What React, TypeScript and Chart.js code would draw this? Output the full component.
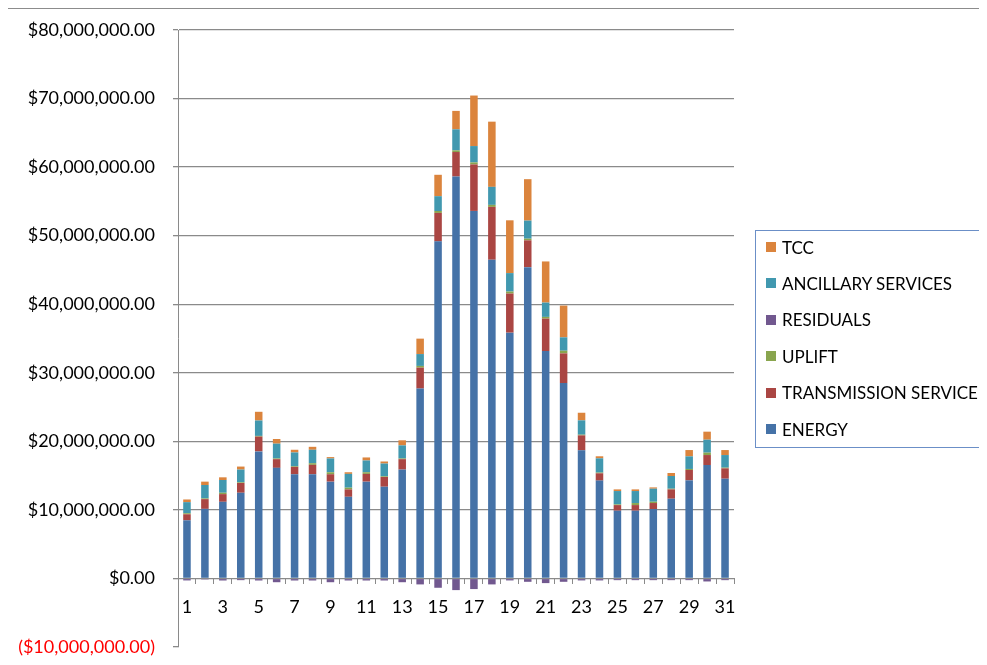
import React, { useEffect, useRef } from "react";
import { Chart, registerables } from "chart.js";

Chart.register(...registerables);

const DAYS = Array.from({ length: 31 }, (_, i) => String(i + 1));

// values in millions of dollars
const ENERGY = [8.48, 10.15, 11.18, 12.5, 18.53, 16.13, 15.2, 15.2, 14.12, 11.91, 14.12, 13.38, 15.88, 27.7, 49.17, 58.63, 53.61, 46.49, 35.85, 45.41, 33.17, 28.5, 18.69, 14.27, 9.88, 9.88, 10.12, 11.63, 14.31, 16.55, 14.55];
const TRANSMISSION = [0.88, 1.42, 1.12, 1.42, 2.16, 1.27, 1.07, 1.37, 1.08, 1.08, 1.13, 1.42, 1.52, 3.05, 4.15, 3.57, 6.78, 7.71, 5.71, 3.91, 4.73, 4.33, 2.18, 1.07, 0.82, 0.82, 0.88, 1.36, 1.51, 1.45, 1.51];
const UPLIFT = [0.15, 0.1, 0.2, 0.1, 0.1, 0.1, 0.1, 0.24, 0.29, 0.25, 0.24, 0.1, 0.1, 0.25, 0.28, 0.24, 0.29, 0.29, 0.29, 0.24, 0.25, 0.39, 0.1, 0.1, 0.1, 0.3, 0.19, 0.1, 0.15, 0.35, 0.1];
const RESIDUALS = [-0.29, -0.15, -0.3, -0.25, -0.3, -0.55, -0.3, -0.3, -0.55, -0.3, -0.3, -0.3, -0.55, -0.87, -1.36, -1.7, -1.55, -0.87, -0.29, -0.49, -0.68, -0.49, -0.29, -0.29, -0.25, -0.25, -0.25, -0.25, -0.25, -0.44, -0.25];
const ANCILLARY = [1.62, 1.96, 1.86, 1.86, 2.25, 2.16, 2.01, 1.96, 2.01, 2.01, 1.72, 1.86, 1.91, 1.73, 2.16, 3.07, 2.39, 2.63, 2.69, 2.64, 2.09, 1.95, 2.09, 2.08, 1.95, 1.75, 1.9, 1.85, 1.84, 1.89, 1.84];
const TCC = [0.39, 0.49, 0.39, 0.44, 1.27, 0.68, 0.39, 0.43, 0.2, 0.24, 0.44, 0.3, 0.74, 2.25, 3.12, 2.69, 7.37, 9.51, 7.7, 6.04, 6.0, 4.63, 1.11, 0.3, 0.24, 0.24, 0.19, 0.44, 0.92, 1.17, 0.73];

const Y_MIN = -10000000;
const Y_MAX = 80000000;
const Y_STEP = 10000000;
const MILLION = 1000000;

const SERIES = [
  { label: "ENERGY", data: ENERGY, color: "#4572A7" },
  { label: "TRANSMISSION SERVICE", data: TRANSMISSION, color: "#AA4643" },
  { label: "UPLIFT", data: UPLIFT, color: "#89A54E" },
  { label: "RESIDUALS", data: RESIDUALS, color: "#71588F" },
  { label: "ANCILLARY SERVICES", data: ANCILLARY, color: "#4198AF" },
  { label: "TCC", data: TCC, color: "#DB843D" },
];

const FONT = "Lato, 'Liberation Sans', sans-serif";

function fmt(v: number): string {
  const s = Math.abs(v).toLocaleString("en-US", { minimumFractionDigits: 2, maximumFractionDigits: 2 });
  return v < 0 ? `($${s})` : `$${s}`;
}

export default function App() {
  const ref = useRef<HTMLCanvasElement | null>(null);

  useEffect(() => {
    if (!ref.current) return;
    const chart = new Chart(ref.current, {
      type: "bar",
      data: {
        labels: DAYS,
        datasets: SERIES.map((s) => ({
          label: s.label,
          data: s.data.map((v) => v * MILLION),
          backgroundColor: s.color,
          borderWidth: 0,
          barPercentage: 0.42,
          categoryPercentage: 1,
        })),
      },
      options: {
        animation: false,
        responsive: false,
        maintainAspectRatio: false,
        layout: { padding: { top: 22, right: 253, bottom: 18, left: 0 } },
        plugins: { legend: { display: false }, tooltip: { enabled: false } },
        scales: {
          x: {
            stacked: true,
            position: { y: 0 } as any,
            afterFit: (scale: any) => {
              scale.height = 0;
            },
            grid: {
              display: true,
              drawOnChartArea: false,
              drawTicks: true,
              tickLength: 5,
              color: "#8a8a8a",
              offset: true,
            },
            border: { display: true, color: "#8a8a8a", width: 1 },
            ticks: {
              autoSkip: false,
              maxRotation: 0,
              padding: 13,
              color: "#000",
              font: { family: FONT, size: 18 },
              callback: (_v: any, i: number) => (i % 2 === 0 ? DAYS[i] : ""),
            },
          },
          y: {
            stacked: true,
            min: Y_MIN,
            max: Y_MAX,
            afterFit: (scale: any) => {
              scale.width = 170;
              scale.paddingTop = 0;
              scale.paddingBottom = 0;
            },
            grid: {
              color: (ctx: any) => (ctx.tick && ctx.tick.value === Y_MIN ? "rgba(0,0,0,0)" : "#8a8a8a"),
              tickColor: "#8a8a8a",
              tickLength: 5,
              lineWidth: 1.3,
            },
            border: { display: true, color: "#8a8a8a", width: 1 },
            ticks: {
              stepSize: Y_STEP,
              padding: 18,
              color: (ctx: any) => (ctx.tick && ctx.tick.value < 0 ? "#ff0000" : "#000"),
              font: { family: FONT, size: 18 },
              callback: (v: any) => fmt(Number(v)),
            },
          },
        },
      },
    });
    return () => chart.destroy();
  }, []);

  const legendItems = [...SERIES].reverse();

  return (
    <div style={{ position: "relative", width: 979, height: 657, overflow: "hidden" }}>
      <div
        style={{
          position: "absolute",
          left: -1,
          top: 0,
          right: 0,
          bottom: -20,
          borderTop: "1px solid #8c8c8c",
          borderLeft: "1px solid #8c8c8c",
        }}
      />
      <canvas ref={ref} width={979} height={657} style={{ position: "absolute", left: 0, top: 0, width: 979, height: 657 }} />
      <div
        style={{
          position: "absolute",
          left: 747,
          top: 222,
          width: 300,
          height: 218,
          boxSizing: "border-box",
          border: "1px solid #6b8fc7",
          fontFamily: FONT,
          fontSize: 17,
          color: "#000",
        }}
      >
        {legendItems.map((s, i) => (
          <div
            key={s.label}
            style={{
              position: "absolute",
              left: 10,
              top: 16 + i * 36.4 - 10,
              height: 20,
              display: "flex",
              alignItems: "center",
              whiteSpace: "nowrap",
            }}
          >
            <span style={{ display: "inline-block", width: 10, height: 10, background: s.color, marginRight: 6 }} />
            <span>{s.label}</span>
          </div>
        ))}
      </div>
    </div>
  );
}
